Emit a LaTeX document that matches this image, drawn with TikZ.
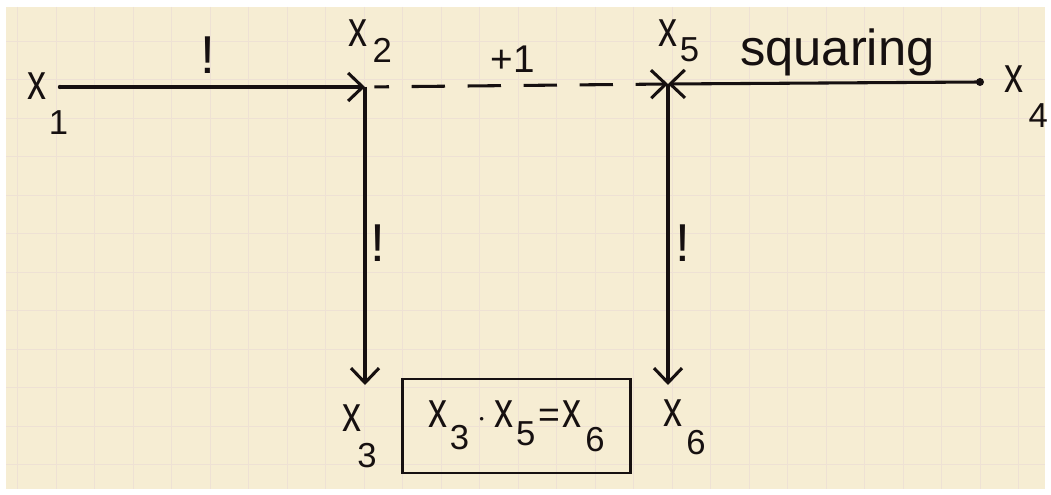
\documentclass[tikz,border=0pt]{standalone}
\usepackage{fontspec}
\setmainfont{Liberation Sans}
\usetikzlibrary{arrows.meta}
\definecolor{paper}{RGB}{246,237,211}
\definecolor{gridc}{RGB}{238,225,212}
\definecolor{ink}{RGB}{22,16,16}
\newcommand\xs[3]{\scalebox{0.75}[1]{\fontsize{38}{40}\selectfont x}\kern#2\raisebox{-#3}{\fontsize{26}{28}\selectfont #1}}
\begin{document}
\begin{tikzpicture}[x=0.75pt,y=-0.75pt,
  lbl/.style={inner sep=0pt,text=ink},
  ann/.style={inner sep=0pt,text=ink,font=\fontsize{40}{42}\selectfont},
  arr/.style={draw=ink,line width=2.3pt,-{Straight Barb[length=11pt,width=21pt,line width=2.3pt]}},
  dashline/.style={dash pattern=on 25pt off 17pt,dash phase=14pt},
  result/.style={draw=ink,line width=2pt,inner sep=0pt,minimum width=171pt,minimum height=70.5pt,text=ink}]
\useasboundingbox (0,0) rectangle (1051,495);
\fill[white] (0,0) rectangle (1051,495);
\fill[paper] (6,7) rectangle (1045,489);
\begin{scope}
\clip (6,7) rectangle (1045,489);
\foreach \gx in {17.5,56,...,1045} \draw[gridc,line width=0.5pt] (\gx,7) -- (\gx,489);
\foreach \gy in {2.5,41,...,489} \draw[gridc,line width=0.5pt] (6,\gy) -- (1045,\gy);
\end{scope}

\coordinate (p1) at (60,87);
\coordinate (p2) at (365,87);
\coordinate (p5) at (668,84);
\coordinate (p4) at (980,82);
\coordinate (p3) at (365,385);
\coordinate (p6) at (668,385);

% vertex labels
\node[lbl,anchor=base west] (l1) at (27,100) {\xs{1}{2pt}{26pt}};
\node[lbl,anchor=base west] (l2) at (348,47) {\xs{2}{4pt}{12pt}};
\node[lbl,anchor=base west] (l5) at (658,47) {\xs{5}{2pt}{11pt}};
\node[lbl,anchor=base west] (l4) at (1004,93) {\xs{4}{4pt}{26pt}};
\node[lbl,anchor=base west] (l3) at (342,432) {\xs{3}{-3pt}{27pt}};
\node[lbl,anchor=base west] (l6) at (663,427) {\xs{6}{3pt}{21pt}};

% connectors
\draw[arr] (p1) -- (p2);
\draw[arr] (p2) -- (p3);
\draw[arr] (p5) -- (p6);
\draw[arr] (p4) -- (p5);
\draw[arr,dashline,shorten <=7pt] (p2) -- (p5);
\fill[ink] (p4) circle (4);
\fill[ink] (p1) circle (2.2);

% edge labels
\node[ann] (b1) at (208,55) {!};
\node[ann] (b2) at (378,243) {!};
\node[ann] (b3) at (683,243) {!};
\node[inner sep=0pt,text=ink,font=\fontsize{29}{31}\selectfont] (pl) at (513,59) {+1};
\node[inner sep=0pt,text=ink,font=\fontsize{38}{40}\selectfont,anchor=base west] (sq) at (740,66) {squaring};

% result box
\node[result] (res) at (516.5,426) {\raisebox{5pt}{\xs{3}{2pt}{17pt}\kern6pt{\fontsize{30}{32}\selectfont$\cdot$}\kern6pt\xs{5}{2pt}{14pt}\kern2pt{\fontsize{28}{30}\selectfont=}\kern2pt\xs{6}{3pt}{18pt}}};
\end{tikzpicture}
\end{document}
